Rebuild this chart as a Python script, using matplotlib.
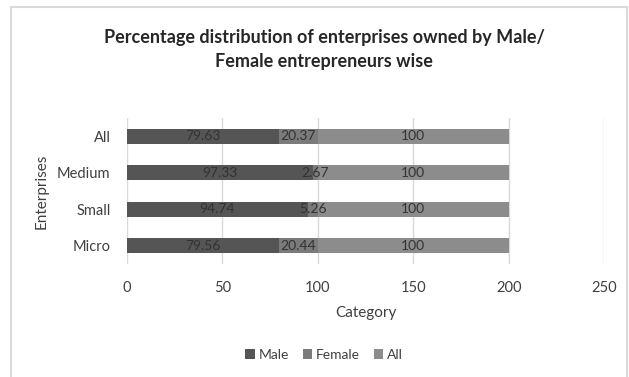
import matplotlib
matplotlib.use("Agg")
import matplotlib.pyplot as plt
from matplotlib.patches import Rectangle

# data
categories = ["Micro", "Small", "Medium", "All"]
male = [79.56, 94.74, 97.33, 79.63]
female = [20.44, 5.26, 2.67, 20.37]
all_ = [100, 100, 100, 100]
xticks = [0, 50, 100, 150, 200, 250]

plt.rcParams['font.family'] = ['Lato', 'DejaVu Sans']
txt = '#404040'

fig = plt.figure(figsize=(6.29, 3.77), dpi=100)
ax = fig.add_axes([127/629, 1 - 264/377, 477/629, 146/377])

# outer chart border
fig.patches.append(Rectangle((11/629, -0.05), 616/629, 1 - 7/377 + 0.05,
                             transform=fig.transFigure, fill=False,
                             edgecolor='#d9d9d9', linewidth=1.5))

y = range(len(categories))
h = 0.42
b1 = ax.barh(y, male, height=h, color='#555555', label='Male')
b2 = ax.barh(y, female, left=male, height=h, color='#7b7b7b', label='Female')
left3 = [m + f for m, f in zip(male, female)]
b3 = ax.barh(y, all_, left=left3, height=h, color='#8c8c8c', label='All')

for bars, vals in ((b1, male), (b2, female), (b3, all_)):
    ax.bar_label(bars, labels=[f"{v:g}" for v in vals], label_type='center',
                 color='#333333', fontsize=10)

ax.set_xlim(0, 250)
ax.set_ylim(-0.5, len(categories) - 0.5)
ax.set_xticks(xticks)
ax.set_yticks(list(y))
ax.set_yticklabels(categories)
ax.tick_params(axis='both', length=0, labelsize=10.5, colors=txt)
ax.tick_params(axis='x', pad=12)
ax.tick_params(axis='y', pad=12)
ax.grid(axis='x', color='#d9d9d9', linewidth=1)
ax.set_axisbelow(True)
for s in ax.spines.values():
    s.set_visible(False)

ax.set_xlabel('Category', fontsize=11, color=txt, labelpad=8)
ax.set_ylabel('Enterprises', fontsize=11, color=txt, labelpad=6)

fig.text(324/629, 1 - 50/377,
         'Percentage distribution of enterprises owned by Male/\nFemale entrepreneurs wise',
         ha='center', va='center', fontsize=13, fontweight='bold', color='#262626',
         linespacing=1.5)

fig.legend(handles=[b1, b2, b3], loc='center', bbox_to_anchor=(324/629, 1 - 355/377),
           ncol=3, frameon=False, fontsize=10, handlelength=0.7, handleheight=0.7,
           handletextpad=0.25, columnspacing=1.0, labelcolor=txt)

fig.savefig('out.png', dpi=100, facecolor='white')
